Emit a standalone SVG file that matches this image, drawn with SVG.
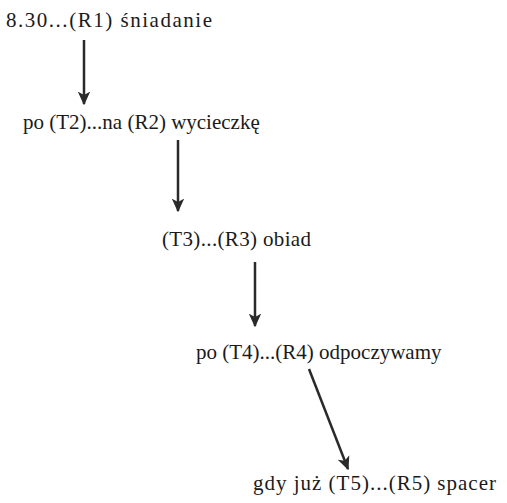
<svg xmlns="http://www.w3.org/2000/svg" width="507" height="503" viewBox="0 0 507 503">
<style>
text.t{font-family:'Liberation Serif',serif;font-size:21px;fill:#1a1a1a}
.c line{stroke:#2a2a2a;stroke-width:2.5}
</style>
<defs>
<marker id="ah" viewBox="0 0 10 10" refX="9" refY="5" markerWidth="5.5" markerHeight="5.5" orient="auto" markerUnits="strokeWidth">
<path d="M0,0.5 L10,5 L0,9.5 L2.5,5 Z" fill="#2a2a2a"/>
</marker>
</defs>
<rect width="507" height="503" fill="#fff"/>
<g id="n1"><text class="t" x="6" y="27" textLength="206" lengthAdjust="spacing">8.30...(R1) śniadanie</text></g>
<g id="n2"><text class="t" x="23" y="129">po (T2)...na (R2) wycieczkę</text></g>
<g id="n3"><text class="t" x="162" y="246" textLength="149" lengthAdjust="spacing">(T3)...(R3) obiad</text></g>
<g id="n4"><text class="t" x="196" y="359">po (T4)...(R4) odpoczywamy</text></g>
<g id="n5"><text class="t" x="253" y="490" textLength="243" lengthAdjust="spacing">gdy już (T5)...(R5) spacer</text></g>
<g class="c" id="connectors">
<line x1="84" y1="40" x2="84" y2="104" marker-end="url(#ah)"/>
<line x1="178" y1="140" x2="178" y2="211" marker-end="url(#ah)"/>
<line x1="255" y1="262" x2="255" y2="326" marker-end="url(#ah)"/>
<line x1="309" y1="369" x2="348" y2="469" marker-end="url(#ah)"/>
</g>
</svg>
